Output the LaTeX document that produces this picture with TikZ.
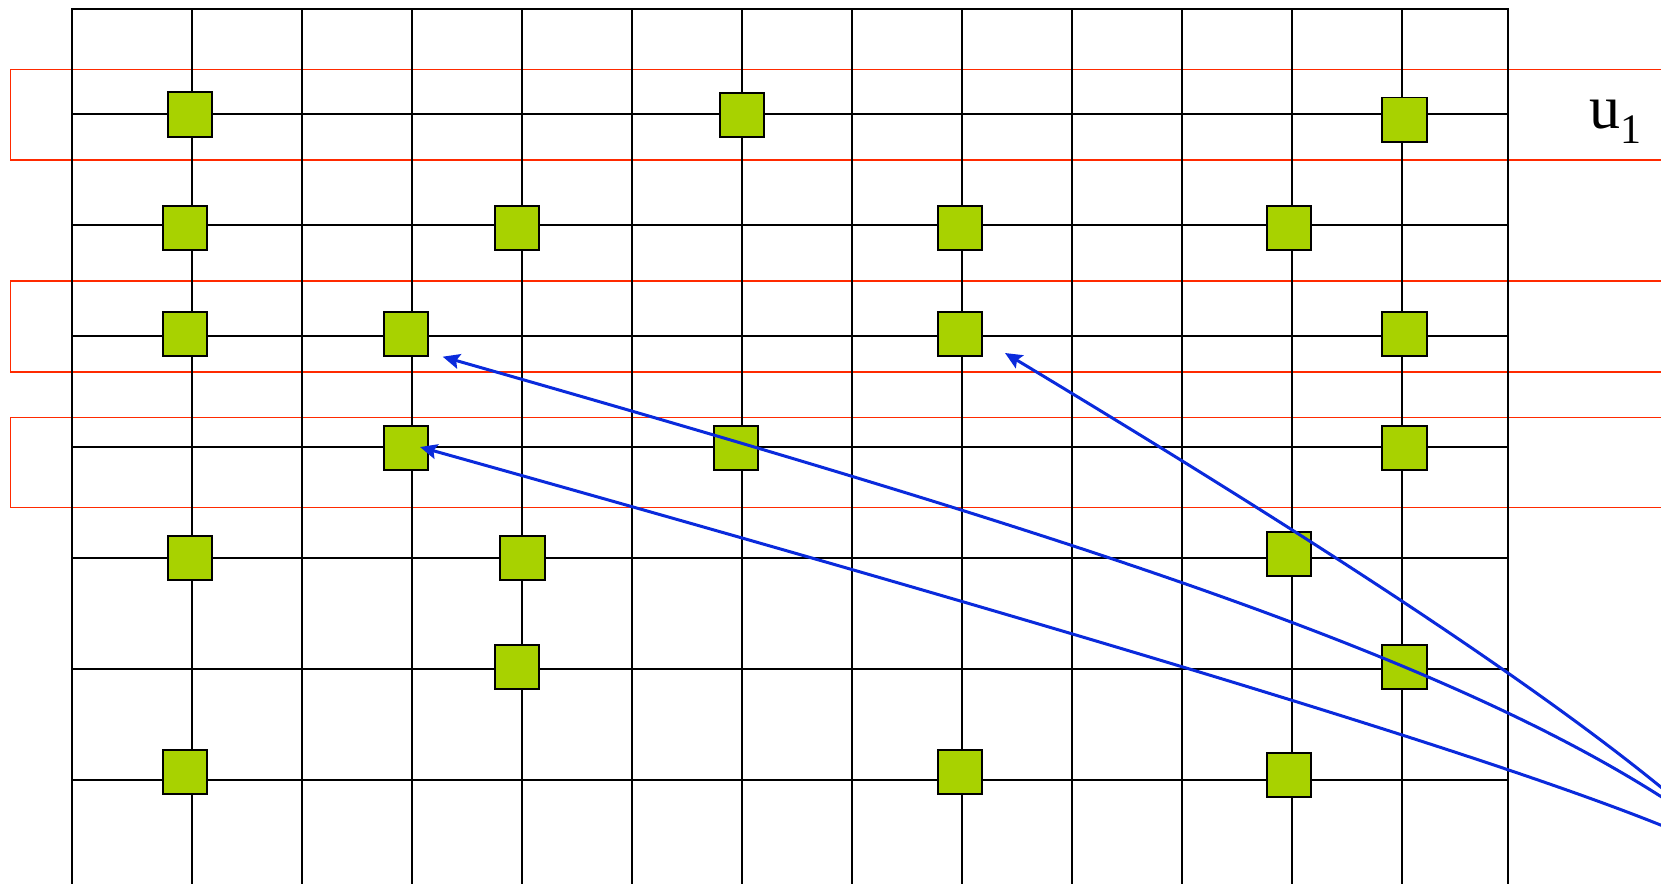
\documentclass[tikz,border=0pt]{standalone}
\usepackage{fontspec}
\setmainfont{Liberation Serif}
\usetikzlibrary{arrows.meta}
\definecolor{pilot}{HTML}{A8D200}
\definecolor{band}{HTML}{FF2A00}
\definecolor{link}{HTML}{0A2ADC}
\tikzset{
  gridline/.style={black,line width=2.1pt,line cap=rect},
  bandbox/.style={draw=band,line width=1.5pt},
  pilotbox/.style={draw=black,fill=pilot,line width=1.9pt,minimum size=44.5pt,
                   inner sep=0pt,outer sep=0pt},
  flow/.style={-{Stealth[length=17pt,width=15pt,inset=3pt]},link,line width=3pt},
}

\begin{document}
\begin{tikzpicture}[x=1pt,y=-1pt]
\useasboundingbox (0,0) rectangle (1661,883);
\clip (0,0) rectangle (1661,883);

% selected rows
\draw[bandbox] (10.5,69.3) rectangle (1700,160);
\draw[bandbox] (10.5,281) rectangle (1700,372);
\draw[bandbox] (10.5,417.3) rectangle (1700,507.7);

% grid
\draw[gridline] (72,900) |- (1508,9) -- (1508,900);
\foreach \x in {192,302,412,522,632,742,852,962,1072,1182,1292,1402}
  \draw[gridline] (\x,9) -- (\x,900);
\foreach \y in {114,225,336,447,558,669,780}
  \draw[gridline] (72,\y) -- (1508,\y);

% pilot cells
\foreach \x/\y/\n in {190/114.5/s1-1, 742/115/s1-6, 1404.5/119.7/s1-12,
    185/228/s2-1, 517/228/s2-4, 960/228/s2-8, 1289/228/s2-11,
    185/334/s3-1, 406/334/s3-3, 960/334/s3-8, 1404.5/334/s3-12,
    406/448/s4-3, 736/448/s4-6, 1404.5/448/s4-12,
    190/558/s5-1, 522.5/558/s5-4, 1289/554/s5-11,
    517/667/s6-4, 1404.5/667/s6-12,
    185/772/s7-1, 960/772/s7-8, 1289/775/s7-11}
  \node[pilotbox] (\n) at (\x,\y) {};

\node[anchor=base west,inner sep=0pt,font=\fontsize{62}{64}\selectfont] (u1)
  at (1589,128) {u\raisebox{-15pt}{\fontsize{42}{44}\selectfont 1}};

% links
\coordinate (src1) at (1680,803);
\coordinate (src2) at (1680,809);
\coordinate (src3) at (1680,833);
\coordinate (tip1) at ([shift={(45,19)}]s3-8.center);
\coordinate (tip2) at ([shift={(36.7,22.7)}]s3-3.center);
\coordinate (tip3) at ([shift={(14,-1)}]s4-3.center);

\draw[flow] (src1) .. controls (1530,676) and (1256,504) .. (tip1);
\draw[flow] (src2) .. controls (1450,655) and (1050,530) .. (tip2);
\draw[flow] (src3) .. controls (1500,757) and (1020,615) .. (tip3);

\end{tikzpicture}
\end{document}
